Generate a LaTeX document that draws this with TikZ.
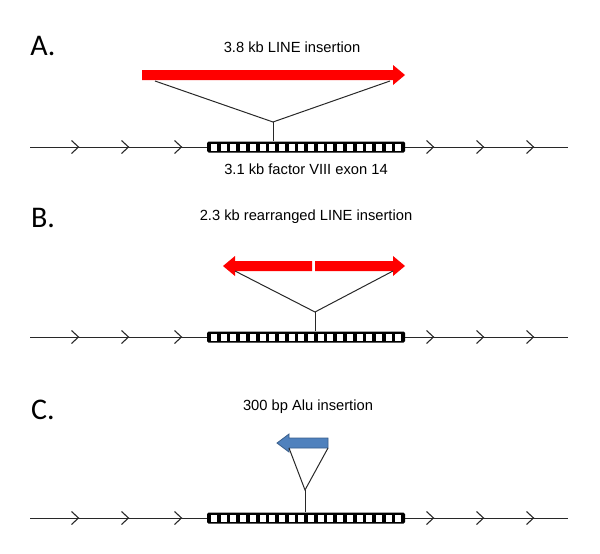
\documentclass[tikz,border=0pt]{standalone}
\usepackage{fontspec}
\setmainfont{Liberation Sans}
\newfontfamily\panelfont{Carlito}
\usepackage{tikz}
\usetikzlibrary{arrows.meta,positioning,calc}
\definecolor{linered}{RGB}{255,0,0}
\definecolor{alublue}{RGB}{79,129,189}
\definecolor{aluedge}{RGB}{56,93,138}
\definecolor{dnagray}{RGB}{40,40,40}
\tikzset{
  plab/.style={font=\panelfont\fontsize{30}{30}\selectfont, inner sep=0pt},
  ilab/.style={font=\fontsize{14.7}{16}\selectfont, inner sep=0pt},
  chrom/.style={dnagray, line width=1pt},
  chev/.style={dnagray, line width=1.1pt},
  leg/.style={dnagray, line width=1pt},
  exonbox/.style={fill=black, rounded corners=1.5pt, minimum width=198pt,
      minimum height=11pt, inner sep=0pt},
  exsq/.style={fill=white},
}

\begin{document}
\begin{tikzpicture}[x=1pt, y=-1pt]
  \useasboundingbox (0,0) rectangle (600,554);
  % genomic rows
  \foreach \row/\yy in {A/147, B/337, C/518} {
    \draw[chrom] (30,\yy) -- (568,\yy);
    \foreach \xx in {75,125,178,430,480,530}
      \draw[chev] (\xx-3.5,\yy-6.5) -- (\xx+3.5,\yy) -- (\xx-3.5,\yy+6.5);
    \node[exonbox] (ex\row) at (306,\yy) {};
    \foreach \i in {0,...,19}
      \fill[exsq] (211+\i*9.7,\yy-3.5) rectangle (217+\i*9.7,\yy+3.5);
  }
  % A
  \node[plab] (labA) at (43,46) {A.};
  \node[ilab] (titA) at (292,47) {3.8 kb LINE insertion};
  \fill[linered] (142,70) -- (393,70) -- (393,65) -- (405,75) -- (393,85)
    -- (393,80) -- (142,80) -- cycle;
  \coordinate (aL) at (155,81);
  \coordinate (aR) at (390,81);
  \coordinate (aTip) at (273,122);
  \draw[leg] (aL) -- (aTip) -- (aR);
  \draw[leg] (aTip) -- (aTip |- exA.north);
  \node[ilab, below=11pt of exA] (exonA) {3.1 kb factor VIII exon 14};
  % B
  \node[plab] (labB) at (43,218) {B.};
  \node[ilab] (titB) at (306,217) {2.3 kb rearranged LINE insertion};
  \fill[linered] (312,261) -- (235,261) -- (235,256) -- (223,266) -- (235,276)
    -- (235,271) -- (312,271) -- cycle;
  \fill[linered] (315,261) -- (393,261) -- (393,256) -- (405,266) -- (393,276)
    -- (393,271) -- (315,271) -- cycle;
  \coordinate (bL) at (235,271);
  \coordinate (bR) at (393,271);
  \coordinate (bTip) at (315,312);
  \draw[leg] (bL) -- (bTip) -- (bR);
  \draw[leg] (bTip) -- (bTip |- exB.north);
  % C
  \node[plab] (labC) at (43,410) {C.};
  \node[ilab] (titC) at (308,407) {300 bp Alu insertion};
  \filldraw[fill=alublue, draw=aluedge, line width=0.8pt] (328,438) -- (289,438)
    -- (289,434) -- (277,443) -- (289,452) -- (289,448) -- (328,448) -- cycle;
  \coordinate (cL) at (289,448);
  \coordinate (cR) at (328,448);
  \coordinate (cTip) at (305,490);
  \draw[leg] (cL) -- (cTip) -- (cR);
  \draw[leg] (cTip) -- (cTip |- exC.north);
\end{tikzpicture}
\end{document}
